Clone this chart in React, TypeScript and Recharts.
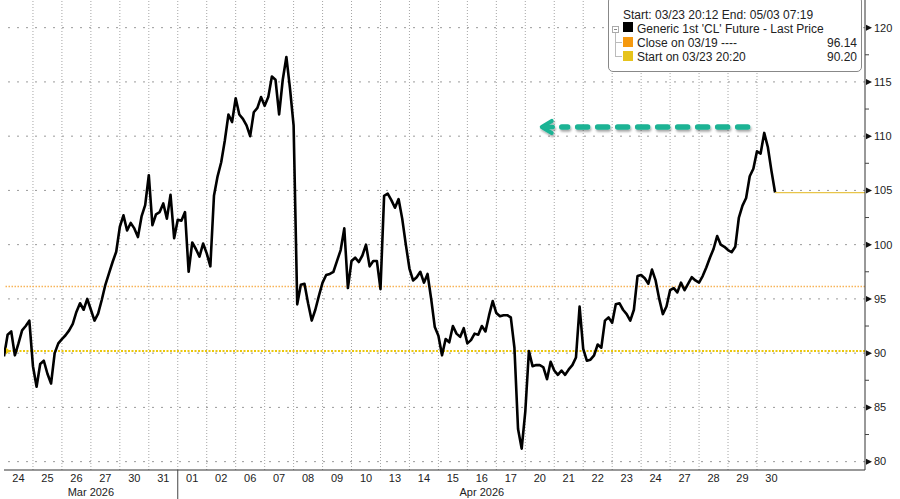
import React from 'react';
import { LineChart, Line, XAxis, YAxis, ReferenceLine, ReferenceDot } from 'recharts';

// ---- categories (trading days) ----
const dayLabels = ['24', '25', '26', '27', '30', '31', '01', '02', '06', '07', '08', '09', '10', '13', '14', '15', '16', '17', '20', '21', '22', '23', '24', '27', '28', '29', '30'];
const monthLabels = ['Mar 2026', 'Apr 2026'];
const monthStarts = [0, 6];
const monthEnds = [6, 27];

// ---- Generic 1st 'CL' Future - Last Price, 8 readings per trading day ----
const mar24 = [89.7, 91.7, 92.0, 89.8, 90.9, 92.1, 92.5, 93.0];
const mar25 = [88.8, 86.9, 89.0, 89.3, 88.1, 87.2, 90.0, 90.9];
const mar26 = [91.3, 91.65, 92.1, 92.7, 93.8, 94.6, 94.0, 95.0];
const mar27 = [94.0, 93.0, 93.65, 94.9, 96.3, 97.35, 98.4, 99.35];
const mar30 = [101.65, 102.7, 101.3, 102.0, 101.5, 100.7, 102.6, 103.65];
const mar31 = [106.4, 101.8, 102.8, 103.0, 103.8, 102.4, 104.6, 100.6];
const apr01 = [102.3, 102.2, 103.0, 97.5, 100.2, 99.6, 98.9, 100.1];
const apr02 = [99.2, 98.0, 104.5, 106.3, 107.6, 109.6, 112.0, 111.3];
const apr06 = [113.5, 112.0, 111.6, 111.0, 110.0, 112.2, 112.6, 113.6];
const apr07 = [112.8, 113.6, 115.5, 115.2, 112.0, 115.2, 117.3, 114.4];
const apr08 = [111.0, 94.5, 96.3, 96.4, 94.6, 93.0, 94.0, 95.3];
const apr09 = [96.5, 97.2, 97.3, 97.5, 98.5, 99.5, 101.5, 96.0];
const apr10 = [98.5, 98.8, 98.4, 99.0, 100.0, 98.0, 98.5, 98.5];
const apr13 = [95.9, 104.5, 104.7, 104.1, 103.4, 104.2, 102.4, 100.0];
const apr14 = [97.8, 96.7, 97.0, 97.5, 96.5, 97.3, 95.0, 92.4];
const apr15 = [91.6, 89.8, 91.3, 91.0, 92.5, 91.8, 91.5, 92.3];
const apr16 = [90.9, 91.2, 91.8, 91.7, 92.5, 92.0, 93.5, 94.8];
const apr17 = [93.7, 93.4, 93.5, 93.5, 93.3, 90.5, 83.0, 81.2];
const apr20 = [84.6, 90.2, 88.8, 88.9, 88.9, 88.7, 87.6, 89.2];
const apr21 = [88.4, 88.0, 88.4, 88.0, 88.5, 88.9, 89.6, 94.3];
const apr22 = [90.4, 89.3, 89.4, 89.8, 90.8, 90.5, 93.0, 93.3];
const apr23 = [92.8, 94.5, 94.6, 94.0, 93.6, 93.0, 94.0, 97.1];
const apr24 = [97.2, 96.9, 96.4, 97.7, 96.7, 95.0, 93.6, 94.3];
const apr27 = [95.8, 96.0, 95.6, 96.5, 95.8, 96.4, 97.0, 96.7];
const apr28 = [96.5, 97.1, 97.9, 98.8, 99.6, 100.8, 100.0, 99.8];
const apr29 = [99.5, 99.3, 99.8, 102.5, 103.6, 104.3, 106.3, 107.0];
const apr30 = [108.6, 108.4, 110.3, 109.0, 106.8, 104.8];

const dayPrices = [mar24, mar25, mar26, mar27, mar30, mar31, apr01, apr02, apr06, apr07, apr08, apr09, apr10, apr13, apr14, apr15, apr16, apr17, apr20, apr21, apr22, apr23, apr24, apr27, apr28, apr29, apr30];
const READINGS_PER_DAY = 8;

// ---- reference levels ----
const closeOn0319 = 96.14;
const startOn0323 = 90.2;

// ---- y axis ticks ----
const yMajorTicks = [80, 85, 90, 95, 100, 105, 110, 115, 120];
const yMinorTicks = [82.5, 87.5, 92.5, 97.5, 102.5, 107.5, 112.5, 117.5];

// ---- annotation arrow (teal, pointing back to the left) ----
const arrowLevel = 110.85;
const arrowFromDay = 25.85;
const arrowToDay = 18.5;

const X_DOMAIN: [number, number] = [0, 29.73];
const Y_DOMAIN: [number, number] = [79.23, 122.55];

const data = dayPrices.flatMap((vals, k) =>
  vals.map((v, i) => ({ t: k + i / READINGS_PER_DAY, price: v }))
);
const lastPoint = data[data.length - 1];

const dayCenters = dayLabels.map((_, k) => k + 0.5);
const monthCenters = monthStarts.map((s, m) => (s + monthEnds[m]) / 2);
const dayBoundaries = dayLabels.slice(1).map((_, k) => k + 1);
const xTicks = Array.from(new Set([...dayCenters, ...monthCenters, ...monthStarts.slice(1)])).sort((a, b) => a - b);
const yTicks = [...yMajorTicks, ...yMinorTicks].sort((a, b) => a - b);

const FONT = '"Liberation Sans", Arial, sans-serif';

const XTick = (props: any) => {
  const { x, y, payload } = props;
  const v = payload.value;
  const k = dayCenters.indexOf(v);
  const m = monthCenters.indexOf(v);
  const s = monthStarts.indexOf(v);
  return (
    <g>
      {k >= 0 && (
        <text x={x} y={y + 12} textAnchor="middle" fontSize={11} fill="#222" fontFamily={FONT}>
          {dayLabels[k]}
        </text>
      )}
      {m >= 0 && (
        <text x={x} y={y + 26} textAnchor="middle" fontSize={11} fill="#222" fontFamily={FONT}>
          {monthLabels[m]}
        </text>
      )}
      {s > 0 && <line x1={x} x2={x} y1={y} y2={y + 30} stroke="#444" strokeWidth={1} />}
    </g>
  );
};

const YTick = (props: any) => {
  const { x, y, payload } = props;
  const v = payload.value;
  if (yMajorTicks.indexOf(v) >= 0) {
    return (
      <g>
        <polygon points={`${x + 1},${y - 3} ${x + 1},${y + 3} ${x + 7},${y}`} fill="#111" />
        <text x={x + 9} y={y} dy="0.35em" fontSize={11} fill="#222" fontFamily={FONT}>
          {v}
        </text>
      </g>
    );
  }
  return <line x1={x} x2={x + 4} y1={y} y2={y} stroke="#444" strokeWidth={1} />;
};

const StartMarker = (props: any) => {
  const { cx, cy } = props;
  return <polygon points={`${cx + 2},${cy - 3.5} ${cx + 2},${cy + 3.5} ${cx + 6},${cy}`} fill="#e8c60f" />;
};

const ArrowShape = (props: any) => {
  const { x1, y1, x2, y2 } = props;
  const left = Math.min(x1, x2);
  const right = Math.max(x1, x2);
  const y = (y1 + y2) / 2;
  const color = '#1ab394';
  return (
    <g>
      <defs>
        <filter id="arrowShadow" x="-10%" y="-100%" width="120%" height="300%">
          <feDropShadow dx="1" dy="2" stdDeviation="1.2" floodColor="#000" floodOpacity="0.35" />
        </filter>
      </defs>
      <g filter="url(#arrowShadow)">
        <line x1={right - 5} x2={left + 22} y1={y} y2={y} stroke={color} strokeWidth={5.5} strokeDasharray="10 10" strokeLinecap="round" />
        <polyline points={`${left + 12},${y - 6} ${left + 2},${y} ${left + 12},${y + 6}`} fill="none" stroke={color} strokeWidth={4} strokeLinecap="round" strokeLinejoin="round" />
        <line x1={left + 4} x2={left + 13} y1={y} y2={y} stroke={color} strokeWidth={4.5} strokeLinecap="round" />
      </g>
    </g>
  );
};

const Square = ({ color, top }: { color: string; top: number }) => (
  <div style={{ position: 'absolute', left: 14, top, width: 10, height: 10, background: color }} />
);

const Legend = () => (
  <div
    style={{
      position: 'absolute',
      left: 608,
      top: -4,
      width: 254,
      height: 76,
      border: '1px solid #888',
      borderRadius: 5,
      background: '#fff',
      boxSizing: 'border-box',
      fontSize: 12,
      lineHeight: '14px',
      color: '#222',
      fontFamily: FONT,
      whiteSpace: 'nowrap',
    }}
  >
    <div style={{ position: 'absolute', left: 14, top: 11 }}>Start: 03/23 20:12 End: 05/03 07:19</div>
    {/* tree */}
    <div style={{ position: 'absolute', left: 3, top: 29, width: 5, height: 5, border: '1px solid #aaa' }}>
      <div style={{ position: 'absolute', left: 1, top: 2, width: 3, height: 1, background: '#888' }} />
    </div>
    <div style={{ position: 'absolute', left: 6, top: 36, width: 1, height: 23, background: '#bbb' }} />
    <div style={{ position: 'absolute', left: 6, top: 45, width: 7, height: 1, background: '#bbb' }} />
    <div style={{ position: 'absolute', left: 6, top: 59, width: 7, height: 1, background: '#bbb' }} />
    <Square color="#000" top={25} />
    <div style={{ position: 'absolute', left: 28, top: 25 }}>Generic 1st 'CL' Future - Last Price</div>
    <Square color="#f5990f" top={40} />
    <div style={{ position: 'absolute', left: 28, top: 39 }}>Close on 03/19 ----</div>
    <div style={{ position: 'absolute', right: 4, top: 39 }}>{closeOn0319.toFixed(2)}</div>
    <Square color="#e6c31c" top={54} />
    <div style={{ position: 'absolute', left: 28, top: 53 }}>Start on 03/23 20:20</div>
    <div style={{ position: 'absolute', right: 4, top: 53 }}>{startOn0323.toFixed(2)}</div>
  </div>
);

export default function App() {
  return (
    <div style={{ position: 'absolute', left: 0, top: 0, width: 900, height: 499, background: '#fff', overflow: 'hidden' }}>
      <LineChart width={900} height={499} data={data} margin={{ top: 0, right: 0, bottom: 0, left: 4 }}>
        <XAxis
          dataKey="t"
          type="number"
          domain={X_DOMAIN}
          allowDataOverflow
          ticks={xTicks}
          interval={0}
          tick={<XTick />}
          tickLine={false}
          tickSize={0}
          tickMargin={0}
          height={29}
          axisLine={{ stroke: '#333' }}
        />
        <YAxis
          orientation="right"
          type="number"
          domain={Y_DOMAIN}
          allowDataOverflow
          ticks={yTicks}
          interval={0}
          tick={<YTick />}
          tickLine={false}
          tickSize={0}
          tickMargin={0}
          width={35}
          axisLine={{ stroke: '#333' }}
        />
        {yMajorTicks.map((v) => (
          <ReferenceLine key={'h' + v} y={v} stroke="#9a9a9a" strokeDasharray="2 7" strokeWidth={1} />
        ))}
        {dayBoundaries.map((k) => (
          <ReferenceLine key={'v' + k} x={k} stroke="#a5a5a5" strokeDasharray="1 2" strokeWidth={1} />
        ))}
        <ReferenceLine y={closeOn0319} stroke="#f8b458" strokeDasharray="1.5 1.5" strokeWidth={1.5} />
        <ReferenceLine y={startOn0323} stroke="#ebc70c" strokeDasharray="2 1.5" strokeWidth={2} />
        <ReferenceDot x={0} y={startOn0323} shape={<StartMarker />} />
        <Line type="linear" dataKey="price" stroke="#000" strokeWidth={2.6} strokeLinejoin="round" dot={false} isAnimationActive={false} />
        <ReferenceLine
          segment={[
            { x: lastPoint.t, y: lastPoint.price },
            { x: X_DOMAIN[1], y: lastPoint.price },
          ]}
          stroke="#e8c54a"
          strokeWidth={1.3}
        />
        <ReferenceLine
          segment={[
            { x: arrowToDay, y: arrowLevel },
            { x: arrowFromDay, y: arrowLevel },
          ]}
          shape={<ArrowShape />}
        />
      </LineChart>
      <Legend />
    </div>
  );
}
